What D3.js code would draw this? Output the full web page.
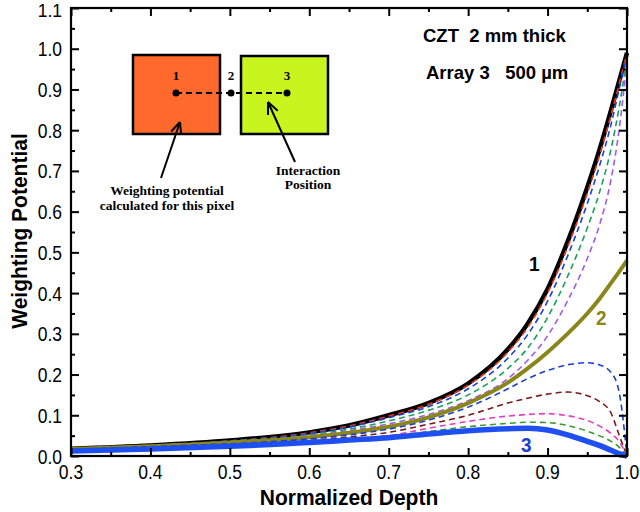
<!DOCTYPE html>
<html><head><meta charset="utf-8">
<script src="https://cdn.jsdelivr.net/npm/d3@7"></script>
<style>
html,body{margin:0;padding:0;background:#fff;}
svg text{font-family:"Liberation Sans",Arial,sans-serif;}
.serif{font-family:"Liberation Serif","Times New Roman",serif !important;font-weight:bold;}
</style></head>
<body>
<svg id="chart" width="640" height="512"></svg>
<script>
// ---- data ----
const depth = [0.3,0.4,0.5,0.6,0.65,0.7,0.75,0.8,0.85,0.875,0.9,0.925,0.95,0.965,0.98,0.99,1.0];
const pixel1     = [0.018,0.026,0.038,0.058,0.075,0.100,0.130,0.178,0.262,0.325,0.41,0.525,0.66,0.75,0.85,0.92,0.99];
const redDash    = [0.018,0.026,0.037,0.057,0.074,0.098,0.127,0.174,0.255,0.316,0.40,0.512,0.645,0.735,0.838,0.912,0.99];
const blueDashA  = [0.018,0.026,0.037,0.055,0.071,0.094,0.121,0.165,0.240,0.298,0.38,0.49,0.62,0.71,0.815,0.90,0.985];
const greenDashA = [0.017,0.025,0.036,0.052,0.066,0.086,0.112,0.150,0.215,0.265,0.34,0.44,0.56,0.645,0.755,0.855,0.98];
const purpleDash = [0.017,0.025,0.035,0.050,0.062,0.079,0.102,0.136,0.190,0.235,0.295,0.38,0.485,0.565,0.68,0.80,0.97];
const pixel2     = [0.017,0.024,0.033,0.046,0.057,0.072,0.095,0.130,0.180,0.215,0.255,0.30,0.35,0.385,0.425,0.452,0.48];
const blueDashB  = [0.016,0.023,0.030,0.042,0.052,0.066,0.088,0.120,0.165,0.19,0.21,0.224,0.229,0.224,0.205,0.158,0.0];
const darkRedDash= [0.015,0.022,0.028,0.038,0.047,0.058,0.078,0.100,0.130,0.142,0.152,0.157,0.148,0.134,0.105,0.052,0.0];
const magentaDash= [0.014,0.021,0.026,0.035,0.042,0.050,0.068,0.085,0.098,0.102,0.104,0.099,0.087,0.074,0.055,0.036,0.0];
const greenDashB = [0.013,0.020,0.025,0.034,0.040,0.047,0.060,0.072,0.080,0.083,0.082,0.075,0.061,0.050,0.036,0.022,0.0];
const pixel3     = [0.012,0.017,0.024,0.033,0.039,0.045,0.054,0.062,0.067,0.068,0.064,0.052,0.036,0.026,0.014,0.006,0.0];
const yTicks = [0.0,0.1,0.2,0.3,0.4,0.5,0.6,0.7,0.8,0.9,1.0,1.1];
const xTicks = [0.3,0.4,0.5,0.6,0.7,0.8,0.9,1.0];

const series = [
  {v:pixel1, color:"#000000", w:4.5, dash:null},
  {v:redDash, color:"#e8381c", w:1.6, dash:"6,4"},
  {v:blueDashA, color:"#1a3fd8", w:1.6, dash:"6,4"},
  {v:greenDashA, color:"#17a05a", w:1.6, dash:"6,4"},
  {v:purpleDash, color:"#a05ce8", w:1.6, dash:"6,4"},
  {v:pixel2, color:"#8a861a", w:4, dash:null},
  {v:blueDashB, color:"#1a3fd8", w:1.6, dash:"6,4"},
  {v:darkRedDash, color:"#7a1a1a", w:1.6, dash:"6,4"},
  {v:magentaDash, color:"#e83cc0", w:1.6, dash:"6,4"},
  {v:greenDashB, color:"#3a9a2a", w:1.6, dash:"6,4"},
  {v:pixel3, color:"#1e4ff0", w:5.5, dash:null}
];

const svg = d3.select("#chart");
const L=71, R=627, T=8, B=456;
const x = d3.scaleLinear().domain([0.3,1.0]).range([L,R]);
const y = d3.scaleLinear().domain([0,1.1]).range([B,T]);

const line = d3.line().x((d,i)=>x(depth[i])).y(d=>y(d)).curve(d3.curveMonotoneX);
const g = svg.append("g");
g.selectAll("path.s").data(series).join("path")
  .attr("fill","none").attr("stroke",d=>d.color).attr("stroke-width",d=>d.w)
  .attr("stroke-dasharray",d=>d.dash).attr("stroke-linejoin","round")
  .attr("d",d=>line(d.v));

// axes
const minorY = d3.range(0.05,1.1,0.1);
const minorX = d3.range(0.35,1.0,0.1);
function styleAxis(sel){ sel.select(".domain").remove(); sel.selectAll("line").attr("stroke","#000").attr("stroke-width",2); sel.selectAll("text").remove(); }
svg.append("g").attr("transform",`translate(${L},0)`).call(d3.axisLeft(y).tickValues(yTicks).tickSize(-8)).call(styleAxis);
svg.append("g").attr("transform",`translate(${L},0)`).call(d3.axisLeft(y).tickValues(minorY).tickSize(-4)).call(styleAxis);
svg.append("g").attr("transform",`translate(${R},0)`).call(d3.axisRight(y).tickValues(yTicks).tickSize(-8)).call(styleAxis);
svg.append("g").attr("transform",`translate(${R},0)`).call(d3.axisRight(y).tickValues(minorY).tickSize(-4)).call(styleAxis);
svg.append("g").attr("transform",`translate(0,${B})`).call(d3.axisBottom(x).tickValues(xTicks).tickSize(-8)).call(styleAxis);
svg.append("g").attr("transform",`translate(0,${B})`).call(d3.axisBottom(x).tickValues(minorX).tickSize(-4)).call(styleAxis);
svg.append("g").attr("transform",`translate(0,${T})`).call(d3.axisTop(x).tickValues(xTicks).tickSize(-8)).call(styleAxis);
svg.append("g").attr("transform",`translate(0,${T})`).call(d3.axisTop(x).tickValues(minorX).tickSize(-4)).call(styleAxis);
svg.append("rect").attr("x",L).attr("y",T).attr("width",R-L).attr("height",B-T).attr("fill","none").attr("stroke","#000").attr("stroke-width",2.2);

// tick labels (slightly tall glyphs as in the reference)
const fmt = d3.format(".1f");
svg.append("g").selectAll("text").data(yTicks).join("text")
  .attr("transform",d=>d>=1.05 ? `translate(62,17)` : `translate(62,${y(d)+7.5}) scale(1,1.18)`).attr("text-anchor","end")
  .attr("font-size",17.5).attr("fill","#000").text(fmt);
svg.append("g").selectAll("text").data(xTicks).join("text")
  .attr("transform",d=>`translate(${x(d)},479) scale(1,1.18)`).attr("text-anchor","middle")
  .attr("font-size",17.5).attr("fill","#000").text(fmt);

// titles
svg.append("text").attr("transform","translate(349,505) scale(1,1.08)").attr("text-anchor","middle").attr("font-size",21).attr("font-weight","bold").text("Normalized Depth");
svg.append("text").attr("transform","translate(27,231) rotate(-90) scale(1,1.08)").attr("text-anchor","middle").attr("font-size",21).attr("font-weight","bold").text("Weighting Potential");

// annotations
svg.append("text").attr("transform","translate(423,42)").attr("font-size",18.5).attr("font-weight","bold").style("white-space","pre").text("CZT  2 mm thick");
svg.append("text").attr("transform","translate(426,79)").attr("font-size",18.5).attr("font-weight","bold").style("white-space","pre").text("Array 3   500 \u00b5m");
svg.append("text").attr("transform","translate(529,271) scale(1,1.1)").attr("font-size",19).attr("font-weight","bold").attr("fill","#000").text("1");
svg.append("text").attr("transform","translate(596,325) scale(1,1.1)").attr("font-size",19).attr("font-weight","bold").attr("fill","#8a861a").text("2");
svg.append("text").attr("transform","translate(521,452) scale(1,1.1)").attr("font-size",19).attr("font-weight","bold").attr("fill","#1a3fd8").text("3");

// inset
const ins = svg.append("g");
ins.append("rect").attr("x",133).attr("y",55).attr("width",87).attr("height",79).attr("fill","#ff6a2c").attr("stroke","#000").attr("stroke-width",2.5);
ins.append("rect").attr("x",241).attr("y",56).attr("width",87).attr("height",78).attr("fill","#c8f51e").attr("stroke","#000").attr("stroke-width",2.5);
ins.append("line").attr("x1",176).attr("y1",93).attr("x2",287).attr("y2",93).attr("stroke","#000").attr("stroke-width",2).attr("stroke-dasharray","6,4");
[[176,"1"],[231,"2"],[287,"3"]].forEach(([px,lab])=>{
  ins.append("circle").attr("cx",px).attr("cy",93).attr("r",3.5).attr("fill","#000");
  ins.append("text").attr("class","serif").attr("x",px).attr("y",80).attr("text-anchor","middle").attr("font-size",13).text(lab);
});
function arrow(x1,y1,x2,y2){
  ins.append("line").attr("x1",x1).attr("y1",y1).attr("x2",x2).attr("y2",y2).attr("stroke","#000").attr("stroke-width",2);
  const a=Math.atan2(y2-y1,x2-x1), h=13, s=0.42;
  [a+Math.PI-s,a+Math.PI+s].forEach(b=>{
    ins.append("line").attr("x1",x2).attr("y1",y2).attr("x2",x2+h*Math.cos(b)).attr("y2",y2+h*Math.sin(b)).attr("stroke","#000").attr("stroke-width",2);
  });
}
arrow(161,178,180,122);
arrow(295,162,268,102);
ins.append("text").attr("class","serif").attr("x",167).attr("y",195).attr("text-anchor","middle").attr("font-size",13.5).text("Weighting potential");
ins.append("text").attr("class","serif").attr("x",167).attr("y",210).attr("text-anchor","middle").attr("font-size",13.5).text("calculated for this pixel");
ins.append("text").attr("class","serif").attr("x",308).attr("y",175).attr("text-anchor","middle").attr("font-size",13.5).text("Interaction");
ins.append("text").attr("class","serif").attr("x",308).attr("y",189).attr("text-anchor","middle").attr("font-size",13.5).text("Position");
</script>
</body></html>
